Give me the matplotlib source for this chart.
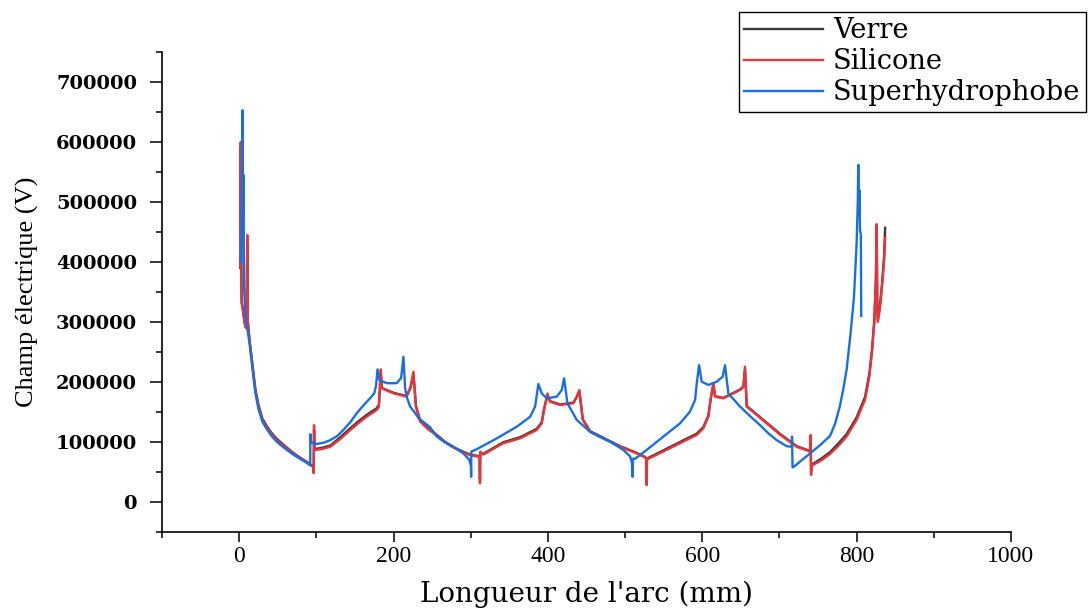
import matplotlib
matplotlib.use("Agg")
import matplotlib.pyplot as plt
from matplotlib.ticker import MultipleLocator

# Data (arc length in mm, field in V)
x_silicone = [1.5, 2.0, 2.6, 3.2, 5.0, 7.0, 8.5, 9.5, 10.5, 11.2, 12.0, 13.4, 16, 18.5, 21, 25, 30, 36, 42, 49, 60,
              70, 80, 88, 93, 96, 96.5, 97, 97.5, 99, 108, 118, 131, 144, 155, 165, 172, 178, 181, 183.5, 184.8, 200,
              217, 222, 225.8, 229, 234.5, 245, 256, 266, 277, 288, 299, 310, 311.5, 312, 312.4, 314, 316.5, 330, 342,
              364, 385.6, 392, 395, 399.4, 402.8, 415.8, 433, 437.4, 440.8, 445.2, 454.7, 472, 493.5, 515, 525.9,
              527.5, 528, 528.4, 530, 549.6, 571.2, 592.9, 601.4, 607.9, 611, 614.4, 616.6, 627.3, 636, 649, 653.3,
              655.4, 657.6, 670.6, 701.3, 722.4, 739.6, 740.5, 741, 741.5, 744, 755, 765.5, 776, 787, 800, 810.9,
              816.5, 820, 823, 825, 826, 826.8, 827.5, 830, 833, 835.5, 837]
y_silicone = [395000, 600000, 420000, 335000, 320000, 300000, 290000, 300000, 445000, 305000, 288000, 268000, 240000,
              212000, 185000, 159000, 137000, 124000, 113000, 103000, 91000, 81000, 72000, 65500, 61000, 58000, 48000,
              128000, 86000, 86700, 88500, 92000, 105000, 120000, 132000, 142000, 148000, 153000, 159000, 221000,
              189500, 181000, 175500, 192000, 217000, 159000, 134000, 121000, 111000, 100000, 91000, 84000, 78000,
              75500, 74000, 31000, 84000, 80000, 79000, 89000, 97800, 106000, 120000, 131000, 153000, 181000, 167000,
              161700, 164500, 175500, 186700, 136700, 117000, 106000, 92000, 81000, 74000, 72000, 28000, 73000, 72000,
              84000, 98000, 111700, 122800, 142000, 172800, 198000, 175500, 172800, 178300, 186700, 192000, 225500,
              159000, 145000, 111700, 92000, 84000, 111700, 45000, 60000, 62000, 70000, 80000, 93000, 109000, 136700,
              170000, 209000, 250000, 300000, 370000, 463000, 320000, 300000, 320000, 360000, 400000, 440000]

# Verre uses the same mesh as Silicone
x_verre = x_silicone
y_verre = [390000, 590000, 415000, 332000, 318000, 298000, 292000, 298000, 430000, 300000, 290000, 270000, 242000,
           215000, 188000, 162000, 139000, 126000, 115000, 105000, 92500, 82000, 73000, 66500, 62000, 59000, 52000,
           120000, 88000, 88500, 90500, 94000, 108000, 123000, 135000, 145000, 151000, 156000, 162000, 215000,
           190000, 182000, 176500, 190000, 212000, 160000, 136000, 122500, 112000, 101000, 92000, 85000, 79000,
           76500, 75000, 36000, 82000, 81000, 80500, 90500, 99500, 108000, 122000, 133000, 155000, 178000, 168000,
           162500, 165500, 175000, 184000, 138000, 118000, 107000, 93000, 82000, 75000, 73000, 33000, 72000, 73500,
           86000, 100000, 114000, 125000, 144000, 172000, 195000, 176500, 173500, 179000, 187500, 192500, 221000,
           160000, 146000, 113000, 93000, 85000, 108000, 50000, 62000, 64000, 73000, 83000, 97000, 113000, 141000,
           175000, 214000, 255000, 305000, 372000, 455000, 325000, 305000, 325000, 365000, 408000, 457000]

x_superhydro = [2.5, 3.5, 4.5, 5.0, 5.6, 6.3, 8.0, 11, 13.4, 16, 18.5, 21, 25, 30, 36, 42, 49, 60, 70, 80, 88, 92,
                92.3, 93, 96, 100.6, 110, 118, 127, 135, 144, 152.4, 161, 169.7, 175, 177.5, 179.2, 181.8, 191.3, 204,
                209.8, 212.8, 215, 217, 221.5, 225.8, 232.3, 247.4, 256, 266, 277.6, 290.5, 298.3, 300.3, 300.5, 300.8,
                307.9, 333.8, 359.7, 377, 383.4, 387.7, 392, 398.6, 411.5, 418, 421, 425.3, 437.4, 454.7, 468, 480.6,
                497.8, 506.5, 509, 509.5, 510, 513, 528, 549.6, 571.2, 584, 590.7, 592.9, 595.9, 599.3, 607.9, 618.8,
                626.5, 629.5, 633.8, 649, 662, 674.9, 686, 696.5, 709.4, 716, 716.3, 717, 718, 739.6, 752, 765.5, 772,
                778.4, 783, 787, 792.2, 796.6, 800, 801.5, 802.2, 803, 803.5, 804.4, 805.5, 806]
y_superhydro = [400000, 500000, 653000, 470000, 545000, 360000, 310000, 285000, 265000, 237000, 208000, 182000,
                155000, 134000, 121000, 110000, 100000, 88500, 79000, 71000, 65000, 61000, 113000, 100000, 98000,
                96700, 99000, 103000, 110000, 120000, 133000, 148000, 161000, 173000, 181000, 195000, 221000, 203000,
                198000, 198000, 206600, 242000, 190000, 175500, 159000, 152000, 140000, 124500, 109000, 100000,
                92000, 81000, 70000, 60000, 42000, 84000, 88000, 106000, 125500, 142000, 159000, 196700, 181000,
                172800, 175500, 186700, 206000, 164500, 136700, 117000, 108000, 100500, 86700, 76000, 65000, 42000,
                72000, 72000, 86700, 109000, 131000, 150500, 170000, 198000, 228000, 200500, 195000, 200500, 209000,
                228000, 181000, 159000, 143000, 128000, 114000, 103000, 93000, 92000, 109000, 58000, 58000, 81000,
                94000, 110000, 130000, 160000, 190000, 220000, 281000, 342000, 431000, 500000, 561700, 480000,
                520000, 453000, 445000, 310000]

# Figure and axes placed like the reference
fig = plt.figure(figsize=(10.88, 6.10), dpi=100)
ax = fig.add_axes([0.1489, 0.1279, 0.7803, 0.7869])

ax.plot(x_verre, y_verre, color='#3a3a3a', lw=1.7, label='Verre')
ax.plot(x_silicone, y_silicone, color='#e8343a', lw=1.7, label='Silicone')
ax.plot(x_superhydro, y_superhydro, color='#1a6fe0', lw=1.7, label='Superhydrophobe')

ax.set_xlim(-100, 1000)
ax.set_ylim(-50000, 750000)
ax.xaxis.set_major_locator(MultipleLocator(200))
ax.xaxis.set_minor_locator(MultipleLocator(100))
ax.yaxis.set_major_locator(MultipleLocator(100000))
ax.yaxis.set_minor_locator(MultipleLocator(50000))

# Only left and bottom axes, ticks pointing out
ax.spines['top'].set_visible(False)
ax.spines['right'].set_visible(False)
ax.spines['left'].set_linewidth(1.2)
ax.spines['bottom'].set_linewidth(1.2)
ax.tick_params(axis='x', which='major', direction='out', length=7, width=1.1, pad=3)
ax.tick_params(axis='x', which='minor', direction='out', length=4, width=1.1)
ax.tick_params(axis='y', which='major', direction='out', length=9, width=1.1, pad=9)
ax.tick_params(axis='y', which='minor', direction='out', length=4.5, width=1.1)

for lab in ax.get_xticklabels():
    lab.set_fontfamily('Liberation Serif')
    lab.set_fontsize(17)
for lab in ax.get_yticklabels():
    lab.set_fontfamily('DejaVu Serif')
    lab.set_fontweight('bold')
    lab.set_fontsize(14)

ax.set_xlabel("Longueur de l'arc (mm)", fontfamily='DejaVu Serif', fontsize=20, labelpad=10)
ax.set_ylabel('Champ électrique (V)', fontfamily='Liberation Serif', fontsize=19, labelpad=12)

# Legend in the top right corner, partly cut by the figure edge
leg = fig.legend(loc='upper left', bbox_to_anchor=(739 / 1088, 1 - 12 / 610), borderaxespad=0,
                 prop={'family': 'DejaVu Serif', 'size': 19.6}, handlelength=2.9, handletextpad=0.36,
                 labelspacing=0.14, borderpad=0.2, fancybox=False, framealpha=1)
leg.get_frame().set_edgecolor('black')
leg.get_frame().set_linewidth(1.0)

fig.savefig('out.png', dpi=100)
